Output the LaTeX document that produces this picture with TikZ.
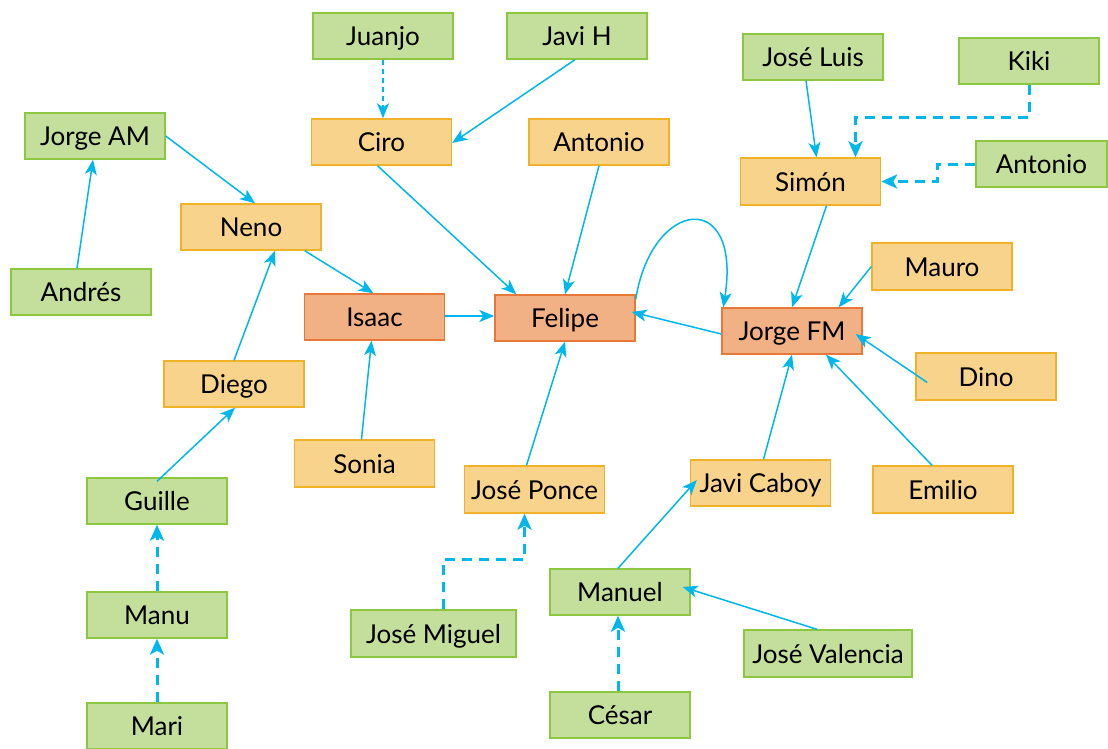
\documentclass[tikz,border=0pt]{standalone}
\usepackage{fontspec}
\setmainfont{Lato}
\usetikzlibrary{arrows.meta,calc}
\definecolor{lnk}{RGB}{0,183,235}
\definecolor{gfill}{RGB}{196,223,155}
\definecolor{gdraw}{RGB}{141,198,63}
\definecolor{ofill}{RGB}{248,211,140}
\definecolor{odraw}{RGB}{240,178,40}
\definecolor{rfill}{RGB}{242,176,133}
\definecolor{rdraw}{RGB}{232,120,58}
\tikzset{
  base/.style={draw,line width=1.4pt,minimum width=140pt,minimum height=46pt,inner sep=0pt,
    font=\fontsize{26}{26}\selectfont,text height=19pt,text depth=0pt},
  gbox/.style={base,fill=gfill,draw=gdraw},
  obox/.style={base,fill=ofill,draw=odraw},
  rbox/.style={base,fill=rfill,draw=rdraw},
  link/.style={draw=lnk,line width=1.5pt,-{Stealth[length=15pt,width=12pt,inset=4pt]}},
  dlink/.style={draw=lnk,line width=3pt,dash pattern=on 10pt off 7pt,-{Stealth[length=16pt,width=14pt,inset=4pt]}},
  tdlink/.style={draw=lnk,line width=1.5pt,dash pattern=on 5pt off 4pt,-{Stealth[length=15pt,width=12pt,inset=4pt]}}
}
\begin{document}
\begin{tikzpicture}[x=1pt,y=-1pt]
\useasboundingbox (0,0) rectangle (1108,749);
% green
\node[gbox] (juanjo) at (383,36) {Juanjo};
\node[gbox] (javih) at (577,36) {Javi H};
\node[gbox] (joseluis) at (813,57) {José Luis};
\node[gbox] (kiki) at (1029,61) {Kiki};
\node[gbox,minimum width=131pt] (antonioG) at (1041.5,164) {Antonio};
\node[gbox] (jorgeam) at (95,136) {Jorge AM};
\node[gbox] (andres) at (81,292) {Andrés};
\node[gbox] (guille) at (157,501) {Guille};
\node[gbox] (manu) at (157,615) {Manu};
\node[gbox] (mari) at (157,726) {Mari};
\node[gbox,minimum width=165pt,minimum height=47pt] (josemiguel) at (433.5,633.5) {José Miguel};
\node[gbox] (manuel) at (620,592) {Manuel};
\node[gbox] (cesar) at (620,715) {César};
\node[gbox,minimum width=168pt,minimum height=47pt] (josevalencia) at (828,653.5) {José Valencia};
% orange
\node[obox] (ciro) at (381.5,142) {Ciro};
\node[obox] (antonioO) at (599,142) {Antonio};
\node[obox] (neno) at (251,227) {Neno};
\node[obox,minimum height=47pt] (simon) at (810.5,181.5) {Simón};
\node[obox,minimum height=47pt] (mauro) at (942,266.5) {Mauro};
\node[obox,minimum height=47pt] (dino) at (986,376.5) {Dino};
\node[obox] (diego) at (234,384) {Diego};
\node[obox,minimum height=47pt] (sonia) at (364.5,463.5) {Sonia};
\node[obox,minimum height=47pt] (joseponce) at (534.5,489.5) {José Ponce};
\node[obox] (javicaboy) at (760.5,483) {Javi Caboy};
\node[obox,minimum height=47pt] (emilio) at (943,489.5) {Emilio};
% red
\node[rbox] (isaac) at (374.5,317) {Isaac};
\node[rbox] (felipe) at (565,318) {Felipe};
\node[rbox] (jorgefm) at (792,331) {Jorge FM};
% links
\draw[tdlink] (juanjo.south) -- (juanjo.south |- ciro.north);
\draw[link] ([xshift=-2pt]javih.south) -- ([yshift=-1pt]ciro.east);
\draw[link] ([xshift=-4pt]ciro.south) -- ([xshift=22pt]felipe.north west);
\draw[link] (antonioO.south) -- (felipe.north);
\draw[link] (jorgeam.east) -- ([xshift=4pt]neno.north);
\draw[link] ([xshift=-4pt]andres.north) -- ([xshift=-2pt]jorgeam.south);
\draw[link] ([xshift=-17pt]neno.south east) -- ([xshift=-1pt]isaac.north);
\draw[link] (diego.north) -- ([xshift=24pt]neno.south);
\draw[link] ([yshift=1pt]isaac.east) -- ([yshift=2pt]felipe.west);
\draw[link] ([xshift=-3pt]sonia.north) -- ([xshift=-3pt]isaac.south);
\draw[link] ([xshift=-8pt]joseponce.north) -- (felipe.south);
\draw[link] ([yshift=-3pt]jorgefm.west) -- ([yshift=6pt,xshift=-4pt]felipe.east);
\draw[link] ([yshift=-5pt]felipe.north east) .. controls (652,198) and (742,188) .. ([xshift=2pt]jorgefm.north west);
\draw[link] ([xshift=-7pt]joseluis.south) -- ([xshift=6pt]simon.north);
\draw[dlink] (kiki.south) -- ++(0,33) -| ([xshift=45pt]simon.north);
\draw[dlink] (antonioG.west) -- ++(-38,0) |- (simon.east);
\draw[link] ([xshift=16pt]simon.south) -- (jorgefm.north);
\draw[link] (mauro.west) -- ([xshift=-24pt]jorgefm.north east);
\draw[link] ([xshift=12pt,yshift=-6pt]dino.west) -- ([xshift=-7pt,yshift=-3pt]jorgefm.east);
\draw[link] ([xshift=-11pt]emilio.north) -- ([xshift=34pt]jorgefm.south);
\draw[link] ([xshift=3pt]javicaboy.north) -- (jorgefm.south);
\draw[link] ([yshift=-4pt]guille.north) -- ([xshift=1pt]diego.south);
\draw[dlink] (manu.north) -- (guille.south);
\draw[dlink] (mari.north) -- (manu.south);
\draw[dlink] ([xshift=10pt]josemiguel.north) -- ++(0,-50) -| ([xshift=-10pt]joseponce.south);
\draw[link] ([xshift=-2pt]manuel.north) -- ([xshift=7pt,yshift=3pt]javicaboy.west);
\draw[link] ([xshift=-11pt]josevalencia.north) -- ([xshift=-8pt,yshift=5pt]manuel.east);
\draw[dlink] ([xshift=-2pt]cesar.north) -- ([xshift=-2pt]manuel.south);
\end{tikzpicture}
\end{document}
